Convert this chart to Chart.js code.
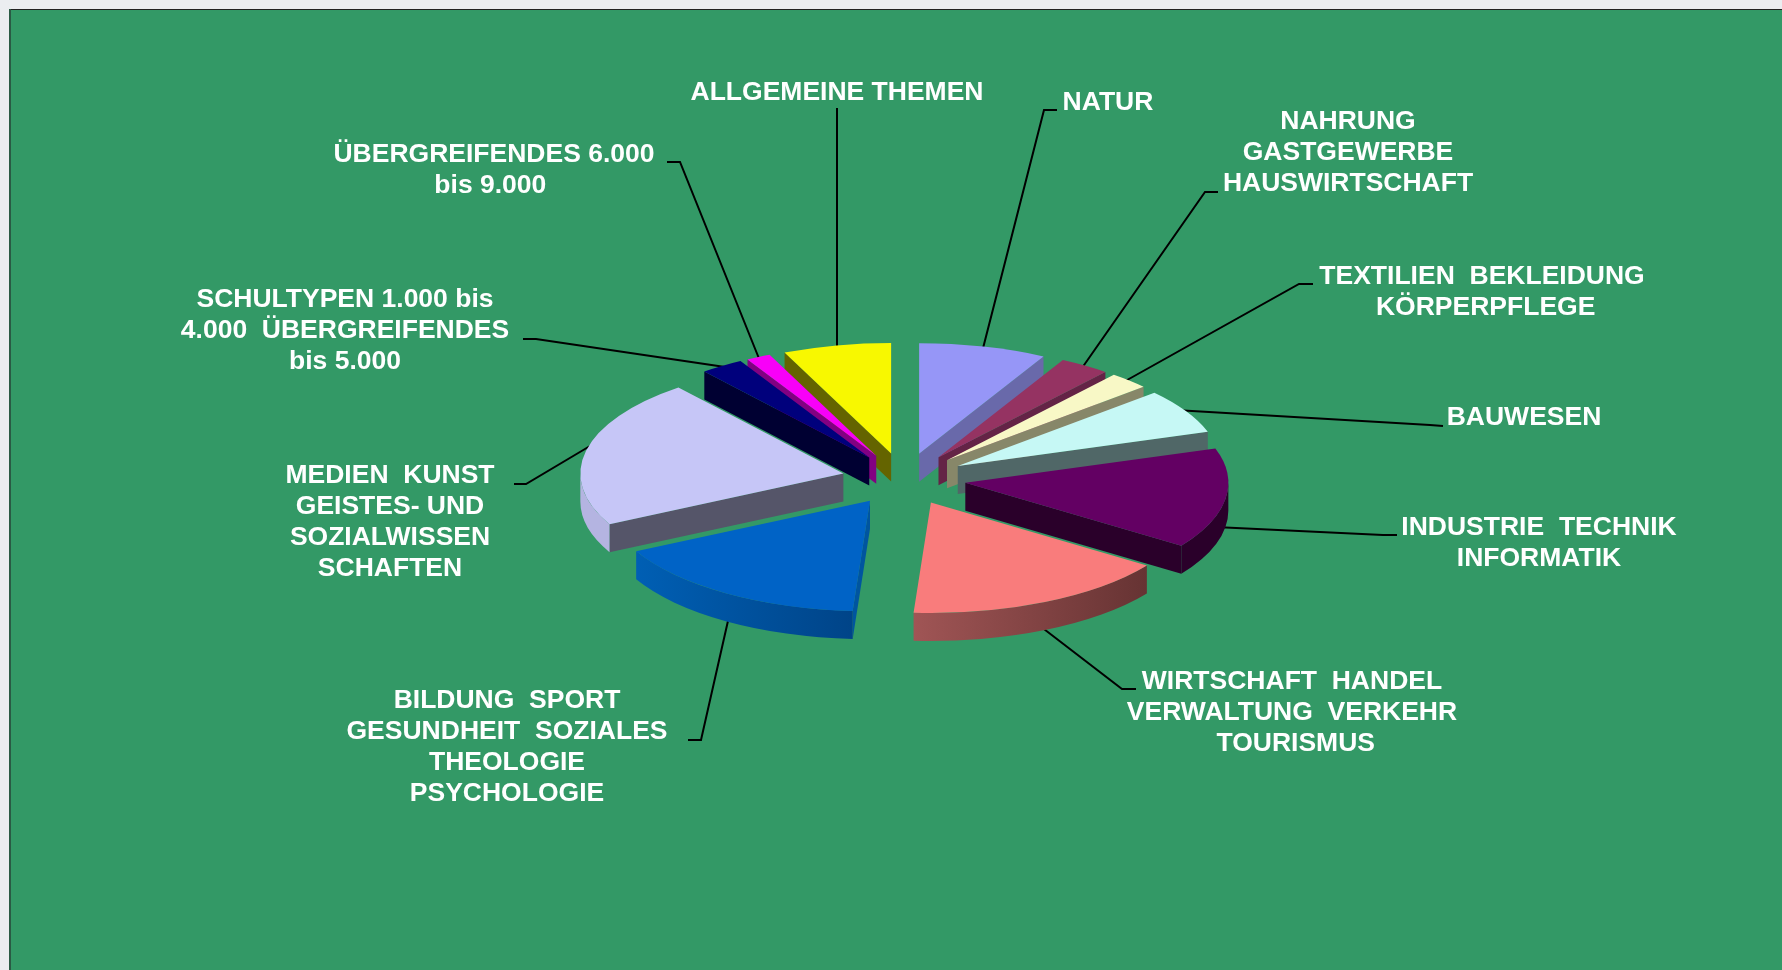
<!DOCTYPE html>
<html>
<head>
<meta charset="utf-8">
<style>
html, body { margin: 0; padding: 0; background: #ebedf0; overflow: hidden; }
canvas { display: block; }
</style>
<script src="https://cdn.jsdelivr.net/npm/chart.js@4"></script>
</head>
<body>
<canvas id="pie" width="1782" height="970"></canvas>
<script>
// Categories and their share of the pie, clockwise from the top
const categories = ['NATUR', 'NAHRUNG GASTGEWERBE HAUSWIRTSCHAFT', 'TEXTILIEN BEKLEIDUNG KÖRPERPFLEGE', 'BAUWESEN',
    'INDUSTRIE TECHNIK INFORMATIK', 'WIRTSCHAFT HANDEL VERWALTUNG VERKEHR TOURISMUS',
    'BILDUNG SPORT GESUNDHEIT SOZIALES THEOLOGIE PSYCHOLOGIE', 'MEDIEN KUNST GEISTES- UND SOZIALWISSEN SCHAFTEN',
    'SCHULTYPEN 1.000 bis 4.000 ÜBERGREIFENDES bis 5.000', 'ÜBERGREIFENDES 6.000 bis 9.000', 'ALLGEMEINE THEMEN'];
const shares = [7.85, 3.1, 2.5, 6.55, 14.7, 16.4, 16.4, 21.8, 2.65, 1.5, 6.65];

// Colours
const topColors = ['#9696F7', '#953362', '#F8F8C6', '#C6F8F5', '#630063', '#F97C7C', '#0063C6', '#C6C6F7', '#00007C', '#F800F8', '#F8F800'];
const cutColors = ['#6969AA', '#642346', '#878769', '#506767', '#2A002A', '#663333', '#00559F', '#555569', '#000032', '#820082', '#646400'];
const rimColors = [['#6969AA', '#6969AA'], ['#642346', '#642346'], ['#878769', '#878769'], ['#506767', '#506767'], ['#2A002A', '#2A002A'],
    ['#A05555', '#663333'], ['#005FB4', '#004488'], ['#B4B4E1', '#B4B4E1'], ['#000032', '#000032'], ['#820082', '#820082'], ['#646400', '#646400']];

// Label text, one entry per line
const labelLines = [
    ['NATUR'],
    ['NAHRUNG', 'GASTGEWERBE', 'HAUSWIRTSCHAFT'],
    ['TEXTILIEN  BEKLEIDUNG', ' KÖRPERPFLEGE'],
    ['BAUWESEN'],
    ['INDUSTRIE  TECHNIK', 'INFORMATIK'],
    ['WIRTSCHAFT  HANDEL', 'VERWALTUNG  VERKEHR', ' TOURISMUS'],
    ['BILDUNG  SPORT', 'GESUNDHEIT  SOZIALES', 'THEOLOGIE', 'PSYCHOLOGIE'],
    ['MEDIEN  KUNST', 'GEISTES- UND', 'SOZIALWISSEN', 'SCHAFTEN'],
    ['SCHULTYPEN 1.000 bis', '4.000  ÜBERGREIFENDES', 'bis 5.000'],
    ['ÜBERGREIFENDES 6.000', 'bis 9.000 '],
    ['ALLGEMEINE THEMEN']
];
// Centre of each label block's first line
const labelAnchors = [[1108, 103], [1348, 122], [1482, 277], [1524, 418], [1539, 528], [1292, 682], [507, 701], [390, 476], [345, 300], [494, 155], [837, 93]];
// Leader lines from label to slice
const leaders = [
    [[1057, 110], [1044, 110], [980, 360]],
    [[1218, 192], [1205, 192], [1075, 378]],
    [[1313, 284], [1299, 284], [1120, 384]],
    [[1443, 426], [1430, 425], [1175, 410]],
    [[1397, 535], [1383, 535], [1215, 527]],
    [[1136, 689], [1122, 689], [1040, 626]],
    [[688, 740], [701, 740], [730, 612]],
    [[514, 484], [526, 484], [590, 446]],
    [[523, 339], [536, 339], [725, 367]],
    [[667, 162], [680, 162], [762, 366]],
    [[837, 108], [837, 360]]
];

const SQUASH = 0.42;   // tilt of the pie
const DEPTH = 28;      // height of the walls
const EXPLODE = 62;    // how far each slice is pulled out

function drawWalls(ctx, arc, i, ox, oy) {
    const a0 = arc.startAngle, a1 = arc.endAngle, R = arc.outerRadius;
    const cut = (a) => {
        const ex = ox + Math.cos(a) * R, ey = oy + Math.sin(a) * R * SQUASH;
        ctx.fillStyle = cutColors[i];
        ctx.beginPath();
        ctx.moveTo(ox, oy);
        ctx.lineTo(ex, ey);
        ctx.lineTo(ex, ey + DEPTH);
        ctx.lineTo(ox, oy + DEPTH);
        ctx.closePath();
        ctx.fill();
    };
    if (-Math.cos(a0) > 0) cut(a0);
    if (Math.cos(a1) > 0) cut(a1);

    // outer curved wall, only the part that faces the viewer
    const from = Math.max(a0, 0), to = Math.min(a1, Math.PI);
    if (to > from) {
        const x0 = ox + Math.cos(to) * R, x1 = ox + Math.cos(from) * R;
        const grad = ctx.createLinearGradient(x0, 0, x1, 0);
        grad.addColorStop(0, rimColors[i][0]);
        grad.addColorStop(1, rimColors[i][1]);
        ctx.fillStyle = grad;
        ctx.beginPath();
        ctx.ellipse(ox, oy, R, R * SQUASH, 0, from, to);
        ctx.ellipse(ox, oy + DEPTH, R, R * SQUASH, 0, to, from, true);
        ctx.closePath();
        ctx.fill();
    }
}

const pie3d = {
    id: 'pie3d',
    beforeDraw(chart) {
        const ctx = chart.ctx;
        ctx.save();
        ctx.fillStyle = '#339966';
        ctx.fillRect(10, 10, chart.width - 10, chart.height - 10);
        ctx.fillStyle = '#222222';
        ctx.fillRect(9, 9, chart.width - 9, 1);
        ctx.fillStyle = '#2a5a44';
        ctx.fillRect(9, 9, 2, chart.height - 9);
        ctx.restore();
    },
    beforeDatasetDraw(chart) {
        const ctx = chart.ctx;
        const arcs = chart.getDatasetMeta(0).data;

        // leader lines go under the slices
        ctx.save();
        ctx.strokeStyle = '#000000';
        ctx.lineWidth = 2;
        leaders.forEach(path => {
            ctx.beginPath();
            path.forEach((p, k) => k ? ctx.lineTo(p[0], p[1]) : ctx.moveTo(p[0], p[1]));
            ctx.stroke();
        });
        ctx.restore();

        // back slices first
        const order = arcs.map((a, i) => i).sort((p, q) => {
            const mid = (a) => Math.sin((a.startAngle + a.endAngle) / 2);
            return mid(arcs[p]) - mid(arcs[q]);
        });
        order.forEach(i => {
            const arc = arcs[i];
            const mid = (arc.startAngle + arc.endAngle) / 2;
            const ox = arc.x + Math.cos(mid) * EXPLODE;
            const oy = arc.y + Math.sin(mid) * EXPLODE * SQUASH;
            drawWalls(ctx, arc, i, ox, oy);
            ctx.save();
            ctx.translate(ox, oy);
            ctx.scale(1, SQUASH);
            ctx.translate(-arc.x, -arc.y);
            arc.draw(ctx);
            ctx.restore();
        });
        return false;
    },
    afterDraw(chart) {
        const ctx = chart.ctx;
        ctx.save();
        ctx.fillStyle = '#ffffff';
        ctx.font = 'bold 26.5px "Liberation Sans", Arial, sans-serif';
        ctx.textAlign = 'center';
        ctx.textBaseline = 'middle';
        labelLines.forEach((lines, i) => {
            lines.forEach((line, k) => {
                ctx.fillText(line, labelAnchors[i][0], labelAnchors[i][1] + k * 31);
            });
        });
        ctx.restore();
    }
};

new Chart(document.getElementById('pie'), {
    type: 'pie',
    data: {
        labels: categories,
        datasets: [{
            data: shares,
            backgroundColor: topColors,
            borderWidth: 0
        }]
    },
    options: {
        responsive: false,
        animation: false,
        events: [],
        layout: { padding: { left: 641, right: 615, top: 216, bottom: 228 } },
        plugins: {
            legend: { display: false },
            tooltip: { enabled: false }
        }
    },
    plugins: [pie3d]
});
</script>
</body>
</html>
